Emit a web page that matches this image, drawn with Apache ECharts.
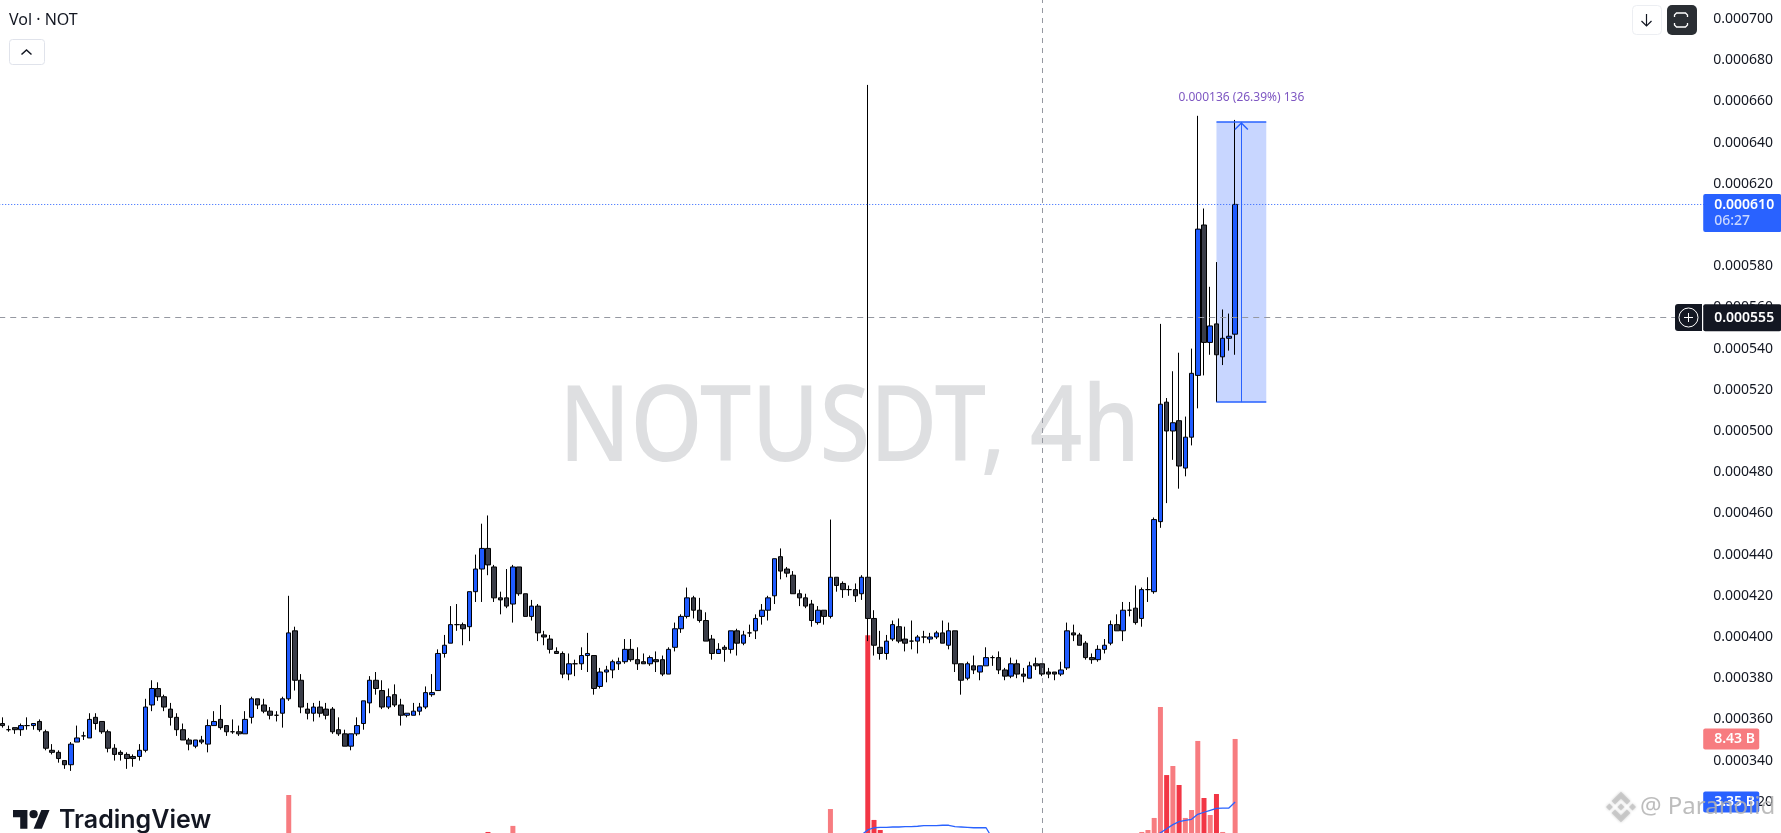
<!DOCTYPE html>
<html><head><meta charset="utf-8">
<style>html,body{margin:0;padding:0;background:#fff;overflow:hidden}#c{width:1781px;height:833px}</style>
<script src="https://cdn.jsdelivr.net/npm/echarts@6/dist/echarts.min.js"></script>
</head><body><div id="c"></div>
<script>
// Prices are in millionths of USDT (700 = 0.000700)
const opens = [
358,355,356,355,357,357,359,354,345,344,
340,338,349,352,351,361,359,354,346,344,
343,342,342,345,367,375,371,365,361,355,
350,347,350,348,357,360,357,354,354,353,
361,370,367,364,362,363,370,403,379,365,
363,366,365,365,355,353,347,353,358,368,
379,374,366,372,367,362,362,364,366,372,
374,392,397,406,406,405,422,433,443,434,
419,419,416,434,421,410,415,401,399,393,
392,382,387,387,391,391,376,383,384,387,
388,394,389,388,387,389,389,382,395,404,
410,419,413,408,399,392,395,394,403,397,
402,403,410,413,420,439,433,430,421,419,
416,407,413,410,429,426,423,423,421,429,
409,395,392,399,405,399,398,398,400,399,
400,402,396,403,387,380,386,383,386,390,
390,384,381,387,382,380,387,387,383,383,
382,385,402,401,397,390,389,394,397,406,
403,413,414,409,423,422,456,514,500,505,
482,497,527,600,543,552,536,545,547];
const closes = [
357,355,355,357,357,358,355,346,344,341,
338,348,351,352,360,358,354,346,343,343,
341,341,345,366,375,371,366,361,355,350,
348,350,349,357,359,356,354,354,353,360,
370,367,364,362,362,370,402,379,366,363,
366,363,362,354,353,347,353,357,369,379,
375,366,371,367,362,363,364,366,373,373,
392,396,406,406,404,422,433,443,435,419,
418,415,434,421,410,415,402,400,394,392,
382,387,387,391,392,375,383,384,388,388,
394,389,387,387,390,388,382,394,404,410,
419,413,408,398,392,394,394,403,397,401,
402,409,413,419,438,432,431,421,419,415,
408,413,410,429,425,423,423,420,429,409,
396,392,398,406,398,397,398,400,400,400,
402,397,403,387,379,387,384,386,390,390,
384,381,387,382,381,386,386,382,382,382,
384,403,401,396,390,389,394,396,406,403,
413,413,407,423,423,457,513,500,504,483,
497,528,598,543,551,537,545,546,610];
const highs = [
361,357,356,358,361,358,360,355,348,345,
340,349,357,354,363,363,359,355,348,345,
344,343,348,370,379,378,372,368,363,358,
351,350,352,360,364,367,357,360,357,364,
371,370,370,366,364,371,420,405,382,368,
368,369,368,366,361,355,353,361,369,381,
383,379,375,377,370,363,368,368,376,382,
394,401,415,416,407,422,440,455,459,435,
422,433,435,434,421,418,416,403,401,395,
393,392,389,395,402,391,385,386,389,390,
399,399,395,392,391,393,391,395,407,411,
424,420,419,412,401,397,396,403,404,403,
406,411,416,420,438,443,434,432,423,421,
418,415,413,457,429,427,425,426,430,668,
413,403,401,408,409,405,408,401,403,402,
403,408,407,403,387,388,391,386,395,391,
393,385,390,389,385,388,390,387,385,383,
388,407,406,402,398,392,396,399,408,411,
417,417,425,424,429,458,552,516,529,538,
507,540,653,608,570,582,559,557,651];
const lows = [
356,354,353,352,355,355,354,345,343,339,
336,335,349,350,351,355,353,344,340,340,
336,337,340,344,364,369,364,357,352,350,
345,346,348,344,357,355,352,353,352,353,
358,365,363,360,359,356,369,374,363,360,
359,361,360,353,352,347,345,352,355,363,
372,365,365,366,357,361,362,362,365,371,
374,390,397,403,396,398,417,417,430,417,
411,414,407,420,410,408,398,396,392,392,
380,379,381,384,383,372,375,378,380,384,
387,388,384,387,386,383,381,382,393,402,
409,409,407,398,389,392,388,392,391,396,
400,399,406,408,416,428,429,421,415,414,
405,406,406,409,422,419,420,417,418,398,
391,389,389,398,397,393,394,392,397,397,
399,397,394,383,372,379,382,379,386,386,
382,379,380,380,378,380,384,381,380,379,
381,384,398,396,389,387,388,392,396,403,
398,410,406,405,417,421,453,465,486,472,
478,493,511,527,537,514,532,539,537];
// Visible volume bars (billions of NOT) and the candle they belong to
const volumeIndex  = [46,78,82,133,139,140,141,183,184,185,186,187,188,189,190,191,192,193,194,195,196,198];
const volumeValues = [3.91,0.93,1.42,2.78,16.8,1.9,1.09,0.93,1.09,2.06,11.0,5.52,6.25,4.72,2.06,2.7,8.27,3.67,2.3,3.99,0.93,8.43];
// Volume moving average (billions)
const maIndex  = [138,139,140,141,142,143,144,145,146,147,148,149,150,151,152,153,154,155,156,157,158,159, 185,186,187,188,189,190,191,192,193,194,195,196,197,198];
const maValues = [0.7,1.09,1.27,1.3,1.3,1.33,1.33,1.36,1.36,1.39,1.44,1.44,1.44,1.47,1.47,1.36,1.33,1.3,1.27,1.27,1.27,0.42, 0.55,0.87,1.19,1.52,1.76,1.87,1.95,2.35,2.52,2.68,2.84,2.86,2.86,3.35];
const lastPrice = 610, crossPrice = 555, crossIndex = 167;
const rangeTop = 650, rangeBottom = 514, rangeFrom = 195, rangeTo = 203, rangeMid = 199;
const lastVolume = 8.43, lastMA = 3.35;
const priceTicks = {min: 300, max: 709.22, interval: 20};
const slotCount = 274;

const FONT = '"Noto Sans", sans-serif';
const BLUE = '#2962ff';
const fmt = v => (v / 1e6).toFixed(6);
const categories = Array.from({length: slotCount}, (_, i) => String(i));
const candles = opens.map((o, i) => [o, closes[i], lows[i], highs[i]]);
const volumeSeries = categories.map(() => null);
volumeIndex.forEach((idx, k) => {
  volumeSeries[idx] = {value: volumeValues[k], itemStyle: {color: closes[idx] >= opens[idx] ? '#f77c80' : '#f23645'}};
});
const maSeries = categories.map(() => null);
maIndex.forEach((idx, k) => { maSeries[idx] = maValues[k]; });

const boxLabel = (text, bg, color, width, height) => ({
  show: true, position: 'end', distance: 0, formatter: text, color, backgroundColor: bg,
  fontFamily: FONT, fontSize: 14, fontWeight: 600, width, height, lineHeight: height,
  align: 'left', verticalAlign: 'middle', padding: [0, 0, 0, 11], offset: [-2, 0], borderRadius: 2
});

const logoPoly = (points) => ({type: 'polygon', x: 1606, y: 792, scaleX: 0.234, scaleY: 0.234, z: 70, shape: {points},
  style: {fill: 'rgba(195,195,195,0.8)', shadowBlur: 3, shadowColor: 'rgba(0,0,0,0.25)'}});
const line = (points, width, color, z) => ({type: 'polyline', z: z, shape: {points}, style: {stroke: color, lineWidth: width, fill: null}});

const chart = echarts.init(document.getElementById('c'), null, {renderer: 'canvas'});
chart.setOption({
  animation: false,
  backgroundColor: '#ffffff',
  grid: [
    {left: -0.78, width: 1706, top: 0, height: 843, outerBoundsMode: 'none'},
    {left: -0.78, width: 1706, top: 595.5, height: 248, outerBoundsMode: 'none'}
  ],
  xAxis: [
    {type: 'category', data: categories, gridIndex: 0, show: false},
    {type: 'category', data: categories, gridIndex: 1, show: false}
  ],
  yAxis: [
    {type: 'value', gridIndex: 0, position: 'right', min: priceTicks.min, max: priceTicks.max, interval: priceTicks.interval,
     axisLine: {show: false}, axisTick: {show: false}, splitLine: {show: false},
     axisLabel: {showMaxLabel: false, margin: 8, padding: [2, 0, 0, 0], color: '#131722', fontFamily: FONT, fontSize: 14, formatter: fmt}},
    {type: 'value', gridIndex: 1, min: 0, max: 20, show: false, splitLine: {show: false}}
  ],
  series: [
    {name: 'range', type: 'line', xAxisIndex: 0, yAxisIndex: 0, data: [], z: 1, silent: true,
     markArea: {silent: true, itemStyle: {color: 'rgba(41,98,255,0.26)'},
       data: [[{xAxis: rangeFrom, yAxis: rangeTop}, {xAxis: rangeTo, yAxis: rangeBottom}]]}},
    {name: 'Vol', type: 'bar', xAxisIndex: 1, yAxisIndex: 1, data: volumeSeries, barWidth: 5, z: 2, silent: true,
     markLine: {silent: true, symbol: 'none', animation: false, lineStyle: {color: 'rgba(0,0,0,0)'},
       data: [
         {yAxis: lastVolume, label: boxLabel('8.43 B', '#f77c80', '#ffffff', 45, 21)},
         {yAxis: lastMA, label: boxLabel('3.35 B', BLUE, '#ffffff', 45, 21)}
       ]}},
    {name: 'Vol MA', type: 'line', xAxisIndex: 1, yAxisIndex: 1, data: maSeries, showSymbol: false, connectNulls: false,
     lineStyle: {color: BLUE, width: 1.3}, z: 3, silent: true},
    {name: 'NOTUSDT', type: 'candlestick', xAxisIndex: 0, yAxisIndex: 0, data: candles, barWidth: 5, z: 4, silent: true,
     itemStyle: {color: '#1f5bff', color0: '#3a3d48', borderColor: '#000000', borderColor0: '#000000', borderWidth: 1}},
    {name: 'overlay', type: 'line', xAxisIndex: 0, yAxisIndex: 0, data: [], z: 6, silent: true,
     markLine: {silent: true, symbol: 'none', animation: false, precision: 6,
       data: [
         {xAxis: crossIndex, lineStyle: {color: '#9598a1', type: [5, 5], width: 1}, label: {show: false}},
         {yAxis: crossPrice, lineStyle: {color: '#9598a1', type: [6, 5], width: 1},
          label: boxLabel(fmt(crossPrice), '#131722', '#ffffff', 67, 27)},
         {yAxis: lastPrice, lineStyle: {color: BLUE, type: [1, 2], width: 1},
          label: {show: true, position: 'end', distance: 0, offset: [-2, 8.7], formatter: '{a|' + fmt(lastPrice) + '}\n{b|06:27}',
            backgroundColor: BLUE, padding: [2, 0, 3, 11], align: 'left', verticalAlign: 'middle', borderRadius: 2,
            rich: {a: {color: '#fff', fontFamily: FONT, fontSize: 14, fontWeight: 600, lineHeight: 17, width: 67},
                   b: {color: '#c9d7ff', fontFamily: FONT, fontSize: 14, fontWeight: 500, lineHeight: 16, width: 67}}}},
         [{xAxis: rangeFrom, yAxis: rangeTop, lineStyle: {color: BLUE, width: 1.5, type: 'solid'}, label: {show: false}}, {xAxis: rangeTo, yAxis: rangeTop}],
         [{xAxis: rangeFrom, yAxis: rangeBottom, lineStyle: {color: BLUE, width: 1.5, type: 'solid'}, label: {show: false}}, {xAxis: rangeTo, yAxis: rangeBottom}],
         [{xAxis: rangeMid, yAxis: rangeBottom, lineStyle: {color: BLUE, width: 1, type: 'solid'},
           symbol: 'none', label: {show: true, position: 'end', distance: 18, formatter: '0.000136 (26.39%) 136',
             color: '#7e57c2', fontFamily: FONT, fontSize: 12}},
          {xAxis: rangeMid, yAxis: rangeTop, symbol: 'path://M0 7L7 0L14 7L13 8L7 2L1 8Z', symbolSize: [14, 8], symbolOffset: [0, 4]}]
       ]}}
  ],
  graphic: {elements: [
    {type: 'text', x: 559, y: 431, scaleX: 0.868, z: 0, silent: true,
     style: {text: 'NOTUSDT, 4h', fill: '#dedfe1', font: '500 106px "Noto Sans"', textAlign: 'left', textVerticalAlign: 'middle'}},
    {type: 'text', x: 9, y: 20, z: 50, style: {text: 'Vol · NOT', fill: '#131722', font: '16px "Noto Sans"', textVerticalAlign: 'middle'}},
    {type: 'rect', shape: {x: 9.5, y: 39.5, width: 35, height: 25, r: 3}, z: 50, style: {fill: '#fff', stroke: '#e0e3eb', lineWidth: 1}},
    line([[21.5, 54.5], [26.5, 50], [31.5, 54.5]], 1.5, '#131722', 51),
    {type: 'rect', shape: {x: 1632.5, y: 5.5, width: 29, height: 29, r: 4}, z: 50, style: {fill: '#fff', stroke: '#eceef2', lineWidth: 1}},
    line([[1646.5, 14], [1646.5, 26]], 1.2, '#131722', 51),
    line([[1641.5, 21], [1646.5, 26], [1651.5, 21]], 1.2, '#131722', 51),
    {type: 'rect', shape: {x: 1667, y: 5, width: 30, height: 30, r: 5}, z: 50, style: {fill: '#2a2e33'}},
    line([[1674.5, 17], [1674.5, 15], [1676.5, 13], [1685.5, 13], [1687.5, 15], [1687.5, 17]], 1.3, '#ffffff', 51),
    line([[1674.5, 23], [1674.5, 25], [1676.5, 27], [1685.5, 27], [1687.5, 25], [1687.5, 23]], 1.3, '#ffffff', 51),
    {type: 'rect', shape: {x: 1675, y: 304, width: 27, height: 27, r: [3, 0, 0, 3]}, z: 60, style: {fill: '#131722'}},
    {type: 'circle', shape: {cx: 1688.5, cy: 317.5, r: 9.5}, z: 61, style: {fill: null, stroke: '#ffffff', lineWidth: 1}},
    line([[1684, 317.5], [1693, 317.5]], 1, '#ffffff', 61),
    line([[1688.5, 313], [1688.5, 322]], 1, '#ffffff', 61),
    {type: 'polygon', x: 13, y: 806, scaleX: 1.03, scaleY: 1.03, z: 50, shape: {points: [[0, 4], [14, 4], [14, 22], [7, 22], [7, 11], [0, 11]]}, style: {fill: '#131722'}},
    {type: 'polygon', x: 13, y: 806, scaleX: 1.03, scaleY: 1.03, z: 50, shape: {points: [[28, 22], [20, 22], [27.5, 4], [35.5, 4]]}, style: {fill: '#131722'}},
    {type: 'circle', x: 13, y: 806, scaleX: 1.03, scaleY: 1.03, z: 50, shape: {cx: 20, cy: 8, r: 4}, style: {fill: '#131722'}},
    {type: 'text', x: 59, y: 820, z: 50, style: {text: 'TradingView', fill: '#131722', font: '600 25px Inter', textVerticalAlign: 'middle'}},
    logoPoly([[38.7, 53.2], [64, 27.9], [89.3, 53.2], [104, 38.5], [64, -1.5], [24, 38.5]]),
    logoPoly([[0, 64], [14.7, 49.3], [29.4, 64], [14.7, 78.7]]),
    logoPoly([[38.7, 74.8], [64, 100.1], [89.3, 74.8], [104, 89.5], [64, 129.5], [24, 89.5]]),
    logoPoly([[98.6, 64], [113.3, 49.3], [128, 64], [113.3, 78.7]]),
    logoPoly([[78.9, 64], [64, 49.1], [49.1, 64], [64, 78.9]]),
    {type: 'text', x: 1640, y: 807, z: 70, style: {text: '@ Paranoiid', fill: 'rgba(178,178,178,0.85)', font: '24px "Noto Sans"', textVerticalAlign: 'middle', shadowBlur: 2, shadowColor: 'rgba(0,0,0,0.3)'}}
  ]}
});
</script></body></html>
